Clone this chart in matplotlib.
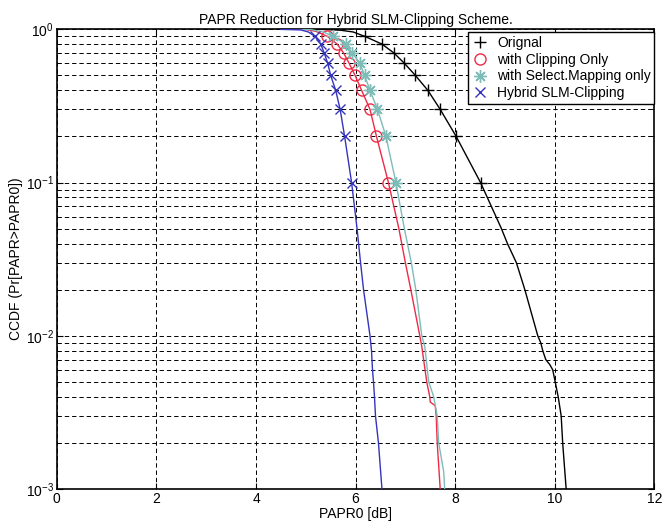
import matplotlib
matplotlib.use("Agg")
import matplotlib.pyplot as plt
from matplotlib.lines import Line2D
from matplotlib.ticker import LogLocator, NullFormatter

plt.rcParams['font.family'] = ['Liberation Sans', 'DejaVu Sans']
plt.rcParams['font.size'] = 10
plt.rcParams['mathtext.fontset'] = 'custom'
plt.rcParams['mathtext.rm'] = 'Liberation Sans'

# CCDF кривые (x - PAPR0 в дБ, p - вероятность)
papr_orig = [5.0, 5.3, 5.7, 5.95, 6.18, 6.53, 6.77, 6.98, 7.20, 7.45, 7.70, 8.02, 8.51,
             8.93, 9.05, 9.23, 9.40, 9.66, 9.72, 9.76, 9.82, 9.90, 9.96, 10.01, 10.07,
             10.13, 10.16, 10.23]
ccdf_orig = [0.999, 0.998, 0.985, 0.96, 0.9, 0.8, 0.7, 0.6, 0.5, 0.4, 0.3, 0.2, 0.1,
             0.05, 0.04, 0.03, 0.02, 0.01, 0.009, 0.008, 0.007, 0.0065, 0.006, 0.005, 0.004,
             0.003, 0.002, 0.001]

papr_clip = [4.8, 5.0, 5.2, 5.43, 5.63, 5.76, 5.87, 5.99, 6.12, 6.29, 6.42, 6.66, 6.87,
             7.00, 7.11, 7.29, 7.33, 7.43, 7.49, 7.50, 7.60, 7.62, 7.64, 7.70]
ccdf_clip = [0.999, 0.995, 0.97, 0.9, 0.8, 0.7, 0.6, 0.5, 0.4, 0.3, 0.2, 0.1, 0.05,
             0.03, 0.02, 0.01, 0.0085, 0.005, 0.004, 0.0037, 0.0035, 0.003, 0.002, 0.001]

papr_slm = [4.9, 5.1, 5.35, 5.55, 5.80, 5.93, 6.09, 6.18, 6.29, 6.44, 6.61, 6.81, 6.98,
            7.12, 7.21, 7.33, 7.39, 7.47, 7.57, 7.64, 7.67, 7.77, 7.79]
ccdf_slm = [0.999, 0.995, 0.96, 0.9, 0.8, 0.7, 0.6, 0.5, 0.4, 0.3, 0.2, 0.1, 0.05,
            0.03, 0.02, 0.01, 0.0085, 0.005, 0.004, 0.003, 0.002, 0.0013, 0.001]

papr_hybrid = [4.5, 4.9, 5.05, 5.18, 5.30, 5.37, 5.44, 5.50, 5.60, 5.69, 5.78, 5.92, 6.03,
               6.10, 6.16, 6.29, 6.32, 6.34, 6.36, 6.38, 6.40, 6.46, 6.53]
ccdf_hybrid = [0.998, 0.99, 0.96, 0.9, 0.8, 0.7, 0.6, 0.5, 0.4, 0.3, 0.2, 0.1, 0.05,
               0.03, 0.02, 0.01, 0.008, 0.006, 0.005, 0.004, 0.003, 0.002, 0.001]

labels = ["Orignal", "with Clipping Only", "with Select.Mapping only", "Hybrid SLM-Clipping"]
colors = ["#000000", "#ee2a46", "#7ebcb8", "#3434bc"]
# '*' в матлабе - это звёздочка из палочек, а не закрашенная звезда
markers = ["+", "o", (8, 2, 0), "x"]
msizes = [9, 8, 9, 7]

# уровни, на которых стоят маркеры
marker_levels = [0.9, 0.8, 0.7, 0.6, 0.5, 0.4, 0.3, 0.2, 0.1]


def marker_idx(ccdf):
    return [i for i, p in enumerate(ccdf) if p in marker_levels]


fig = plt.figure(figsize=(6.69, 5.22), dpi=100)
ax = fig.add_axes([0.085, 0.063, 0.893, 0.881])

curves = [(papr_orig, ccdf_orig), (papr_clip, ccdf_clip),
          (papr_slm, ccdf_slm), (papr_hybrid, ccdf_hybrid)]

for (x, p), c, m, ms in zip(curves, colors, markers, msizes):
    ax.semilogy(x, p, color=c, lw=1.0, marker=m, markersize=ms, markeredgewidth=1.0,
                markerfacecolor='none', markevery=marker_idx(p), zorder=3)

ax.set_xlim(0, 12)
ax.set_ylim(1e-3, 1)
ax.set_xticks(range(0, 13, 2))
ax.yaxis.set_major_locator(LogLocator(base=10))
ax.yaxis.set_minor_locator(LogLocator(base=10, subs=range(2, 10)))
ax.yaxis.set_minor_formatter(NullFormatter())

dash = (0, (4.5, 3))
ax.grid(True, which='major', color='k', linestyle=dash, lw=0.7)
ax.grid(True, which='minor', axis='y', color='k', linestyle=dash, lw=0.7)

ax.tick_params(which='both', direction='in', top=True, right=True)
ax.tick_params(which='major', length=4, pad=2)
ax.tick_params(which='minor', length=2)
for s in ax.spines.values():
    s.set_linewidth(1.2)

ax.set_title("PAPR Reduction for Hybrid SLM-Clipping Scheme.", fontsize=10, pad=4)
ax.set_xlabel("PAPR0 [dB]", labelpad=1)
ax.set_ylabel("CCDF (Pr[PAPR>PAPR0])", labelpad=2)

handles = [Line2D([], [], color=c, marker=m, linestyle='none', markersize=ms,
                  markerfacecolor='none', markeredgewidth=1.0)
           for c, m, ms in zip(colors, markers, msizes)]
leg = ax.legend(handles, labels, loc='upper left', bbox_to_anchor=(0.689, 0.993),
                borderaxespad=0, fancybox=False, framealpha=1, edgecolor='k',
                handlelength=1.2, handletextpad=0.6, labelspacing=0.2,
                borderpad=0.25, fontsize=10)
leg.get_frame().set_linewidth(1.0)

fig.savefig("out.png", dpi=100)
